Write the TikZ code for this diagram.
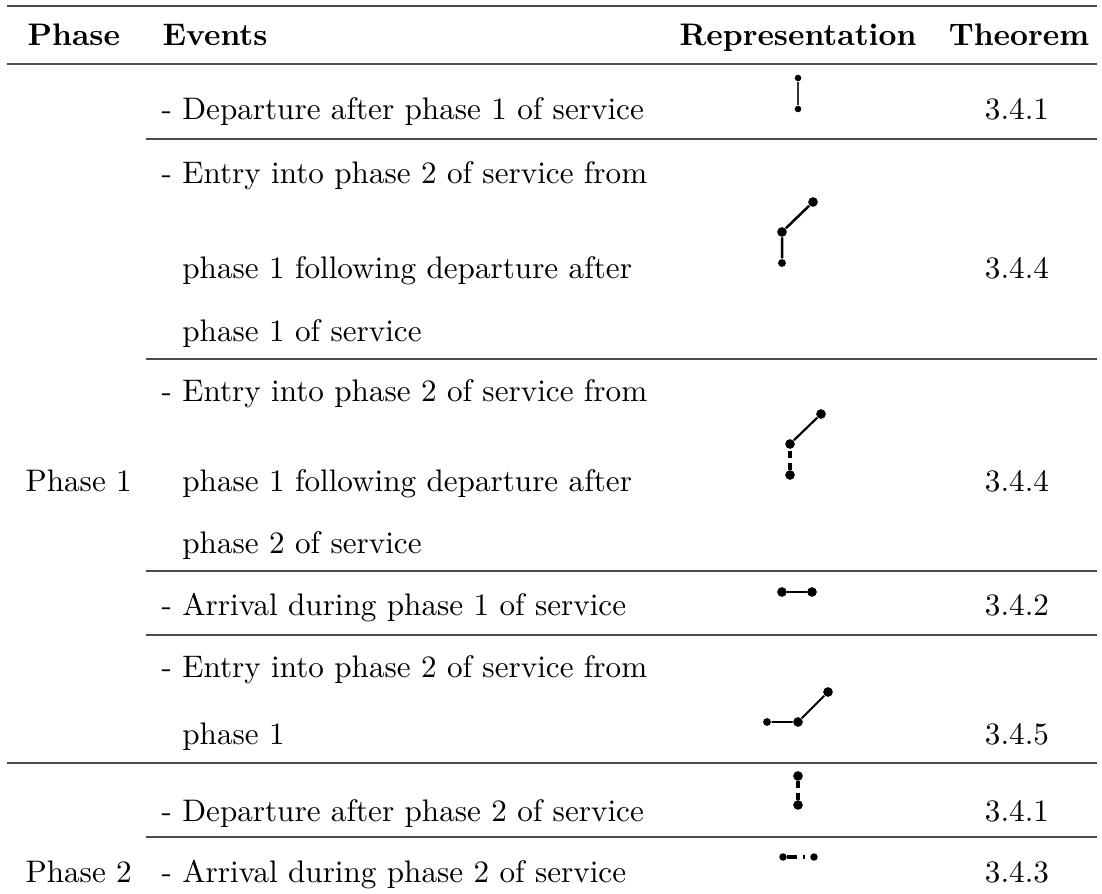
\documentclass[tikz,border=0pt]{standalone}
\begin{document}
\begin{tikzpicture}[x=0.321pt, y=-0.321pt,
	txt/.style={anchor=base west, inner sep=0pt},
	ctr/.style={anchor=base, inner sep=0pt},
	dot/.style={circle, fill, inner sep=0pt, minimum size=3.1pt},
	sdot/.style={circle, fill, inner sep=0pt, minimum size=2.1pt},
	rulefull/.style={black!70, line width=0.6pt},
	rulepart/.style={black!70, line width=0.4pt}]
	\useasboundingbox (0,0) rectangle (1102,894);
	% rules
	\draw[rulefull, line width=0.8pt] (7,6) -- (1097,6);
	\draw[rulefull] (7,64) -- (1097,64);
	\draw[rulepart] (146,139) -- (1097,139);
	\draw[rulepart] (146,359) -- (1097,359);
	\draw[rulepart] (146,571) -- (1097,571);
	\draw[rulepart] (146,635) -- (1097,635);
	\draw[rulefull] (7,763) -- (1097,763);
	\draw[rulepart] (146,837) -- (1097,837);
	% header
	\node[txt, font=\bfseries] (hphase) at (27,46) {Phase};
	\node[txt, font=\bfseries] (hevents) at (162,46) {Events};
	\node[ctr, font=\bfseries] (hrep) at (798,46) {Representation};
	\node[ctr, font=\bfseries] (hthm) at (1019,46) {Theorem};
	% phase column
	\node[txt] (p1) at (25,491) {Phase 1};
	\node[txt] (p2) at (25,882) {Phase 2};
	% events
	\node[txt] (e1) at (161,120) {- Departure after phase 1 of service};
	\node[txt] (e2a) at (161,184) {- Entry into phase 2 of service from};
	\node[txt] (e2b) at (161,278) {\phantom{- }phase 1 following departure after};
	\node[txt] (e2c) at (161,341) {\phantom{- }phase 1 of service};
	\node[txt] (e3a) at (161,401) {- Entry into phase 2 of service from};
	\node[txt] (e3b) at (161,491) {\phantom{- }phase 1 following departure after};
	\node[txt] (e3c) at (161,553) {\phantom{- }phase 2 of service};
	\node[txt] (e4) at (161,615) {- Arrival during phase 1 of service};
	\node[txt] (e5a) at (161,677) {- Entry into phase 2 of service from};
	\node[txt] (e5b) at (161,744) {\phantom{- }phase 1};
	\node[txt] (e6) at (161,821) {- Departure after phase 2 of service};
	\node[txt] (e7) at (161,882) {- Arrival during phase 2 of service};
	% theorems
	\node[ctr] (t1) at (1017,120) {3.4.1};
	\node[ctr] (t2) at (1017,278) {3.4.4};
	\node[ctr] (t3) at (1017,491) {3.4.4};
	\node[ctr] (t4) at (1017,615) {3.4.2};
	\node[ctr] (t5) at (1017,744) {3.4.5};
	\node[ctr] (t6) at (1017,821) {3.4.1};
	\node[ctr] (t7) at (1017,882) {3.4.3};
	% representations
	\node[sdot] (r1a) at (798,78) {};
	\node[sdot] (r1b) at (798,109) {};
	\draw[black!80, line width=0.45pt] (r1a) -- (r1b);

	\node[sdot, minimum size=2.5pt] (r2a) at (782,263) {};
	\node[dot] (r2b) at (782,232) {};
	\node[dot] (r2c) at (813,202) {};
	\draw[line width=0.8pt] (r2a) -- (r2b) -- (r2c);

	\node[dot] (r3a) at (790,475) {};
	\node[dot] (r3b) at (790,444) {};
	\node[dot] (r3c) at (821,414) {};
	\draw[line width=1pt, dash pattern=on 2.2pt off 1.6pt] (r3a) -- (r3b);
	\draw[line width=0.7pt] (r3b) -- (r3c);

	\node[dot] (r4a) at (782,592) {};
	\node[dot] (r4b) at (812,592) {};
	\draw[line width=0.8pt] (r4a) -- (r4b);

	\node[sdot, minimum size=2.5pt] (r5a) at (767,722) {};
	\node[dot] (r5b) at (798,722) {};
	\node[dot] (r5c) at (828,692) {};
	\draw[line width=0.6pt] (r5a) -- (r5b) -- (r5c);

	\node[dot] (r6a) at (798,776) {};
	\node[dot] (r6b) at (798,805) {};
	\draw[line width=1.1pt, dash pattern=on 2.2pt off 1.4pt] (r6a) -- (r6b);

	\node[dot, minimum size=2.4pt] (r7a) at (783,857) {};
	\node[dot, minimum size=2.4pt] (r7b) at (814,857) {};
	\draw[line width=1pt, dash pattern=on 3pt off 2pt on 0.8pt off 2pt] (r7a) -- (r7b);
\end{tikzpicture}
\end{document}
